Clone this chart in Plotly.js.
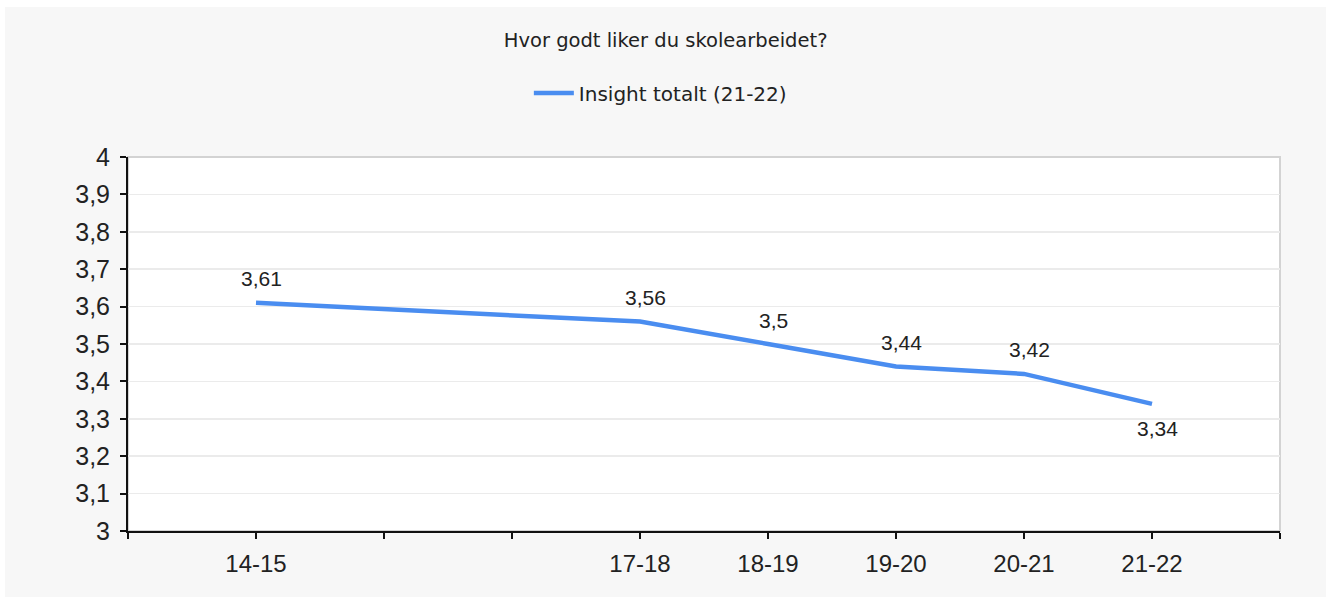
<!DOCTYPE html>
<html>
<head>
<meta charset="utf-8">
<script src="https://cdn.plot.ly/plotly-3.0.1.min.js"></script>
<style>html,body{margin:0;padding:0;background:#fff;}#chart{width:1326px;height:603px;}</style>
</head>
<body>
<div id="chart"></div>
<script>
// Data
const seasons = ['14-15', '15-16', '16-17', '17-18', '18-19', '19-20', '20-21', '21-22'];
const shownSeasons = ['14-15', '17-18', '18-19', '19-20', '20-21', '21-22'];
const values = [3.61, 3.56, 3.5, 3.44, 3.42, 3.34];
const seriesName = 'Insight totalt (21-22)';
const chartTitle = 'Hvor godt liker du skolearbeidet?';
const yTickValues = [3, 3.1, 3.2, 3.3, 3.4, 3.5, 3.6, 3.7, 3.8, 3.9, 4];
const yTickLabels = ['3', '3,1', '3,2', '3,3', '3,4', '3,5', '3,6', '3,7', '3,8', '3,9', '4'];
const xTickLabels = ['14-15', '', '', '17-18', '18-19', '19-20', '20-21', '21-22'];

const xPos = shownSeasons.map(s => seasons.indexOf(s));
const labelText = values.map(v => String(v).replace('.', ','));

const xTickVals = [-1].concat(seasons.map((s, i) => i), [seasons.length]);
const xTickText = [''].concat(xTickLabels, ['']);

const font = 'Liberation Sans, Arial, sans-serif';
const font2 = 'DejaVu Sans, sans-serif';

const trace = {
  x: xPos,
  y: values,
  type: 'scatter',
  mode: 'lines',
  name: seriesName,
  line: {color: '#4a8df0', width: 4.5},
  hoverinfo: 'skip'
};

const annotations = xPos.map((x, i) => ({
  x: x, y: values[i], xref: 'x', yref: 'y', text: labelText[i], showarrow: false,
  yshift: i === values.length - 1 ? -25 : 24, xshift: 5, xanchor: 'center', yanchor: 'middle',
  font: {family: font, size: 21, color: '#222'}
}));

// plot area px: x 128..1280, y 157..531
const W = 1152, H = 374;
const layout = {
  width: 1326, height: 603,
  margin: {l: 128, r: 46, t: 157, b: 72, pad: 0},
  paper_bgcolor: '#ffffff',
  plot_bgcolor: 'rgba(0,0,0,0)',
  title: {text: chartTitle, font: {family: font2, size: 19.5, color: '#222'},
          x: 0.502, xref: 'container', xanchor: 'center', y: 1 - 40/603, yref: 'container', yanchor: 'middle'},
  showlegend: true,
  legend: {orientation: 'h', x: 0.498, xref: 'container', xanchor: 'center',
           y: 1 - 93/603, yref: 'container', yanchor: 'middle', itemwidth: 40,
           font: {family: font2, size: 20, color: '#222'}, bgcolor: 'rgba(0,0,0,0)'},
  annotations: annotations,
  xaxis: {
    range: [-1, seasons.length], tickmode: 'array', tickvals: xTickVals, ticktext: xTickText,
    showgrid: false, zeroline: false, showline: true, linecolor: '#111', linewidth: 2,
    ticks: 'outside', ticklen: 6, tickwidth: 2, tickcolor: '#111',
    tickfont: {family: font, size: 24, color: '#222'}, ticklabelstandoff: 4, fixedrange: true
  },
  yaxis: {
    range: [3, 4], tickmode: 'array', tickvals: yTickValues, ticktext: yTickLabels,
    showgrid: true, gridcolor: '#ebebeb', gridwidth: 1.5, zeroline: false,
    showline: true, linecolor: '#111', linewidth: 2,
    ticks: 'outside', ticklen: 6, tickwidth: 2, tickcolor: '#111',
    tickfont: {family: font, size: 25, color: '#222'}, ticklabelstandoff: 5, fixedrange: true
  },
  shapes: [
    {type: 'rect', xref: 'paper', yref: 'paper', layer: 'below',
     x0: (5 - 128) / W, x1: (1326 - 128) / W, y0: (531 - 597) / H, y1: (531 - 7) / H,
     fillcolor: '#f7f7f7', line: {width: 0}},
    {type: 'rect', xref: 'paper', yref: 'paper', layer: 'below',
     x0: 0, x1: 1, y0: 0, y1: 1, fillcolor: '#ffffff', line: {color: '#d3d3d3', width: 2}}
  ]
};

Plotly.newPlot('chart', [trace], layout, {displayModeBar: false, staticPlot: true});
</script>
</body>
</html>
